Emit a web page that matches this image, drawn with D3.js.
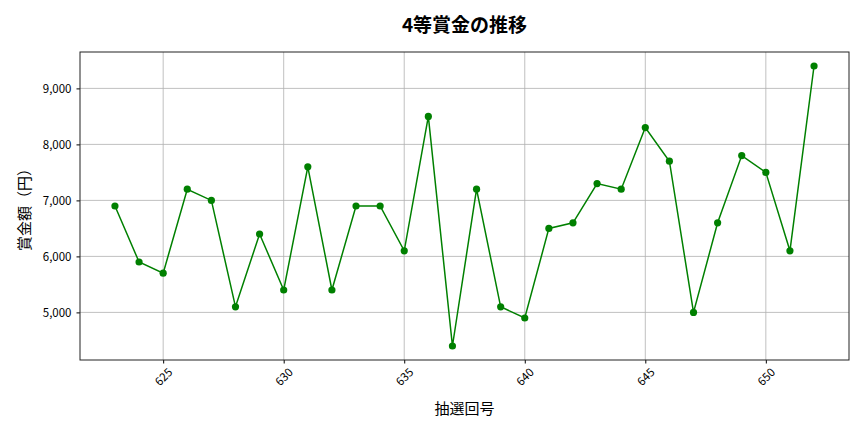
<!DOCTYPE html>
<html>
<head>
<meta charset="utf-8">
<title>4等賞金の推移</title>
<script src="https://cdn.jsdelivr.net/npm/d3@7"></script>
<style>
    body { margin: 0; background: #fff; }
    svg { font-family: "Noto Sans CJK JP", "Noto Sans", sans-serif; }
    .grid line { stroke: #b0b0b0; stroke-width: 0.8; }
    .axis path { display: none; }
    .axis line { stroke: #000; }
    .axis text { font-family: "Noto Sans CJK JP", "Noto Sans", sans-serif; font-size: 11.5px; fill: #000; }
</style>
</head>
<body>
<svg id="chart" width="864" height="432"></svg>
<script>
    // 抽選回号
    var draws = [623, 624, 625, 626, 627, 628, 629, 630, 631, 632,
                 633, 634, 635, 636, 637, 638, 639, 640, 641, 642,
                 643, 644, 645, 646, 647, 648, 649, 650, 651, 652];
    // 4等賞金 (円)
    var prizes = [6900, 5900, 5700, 7200, 7000, 5100, 6400, 5400, 7600, 5400,
                  6900, 6900, 6100, 8500, 4400, 7200, 5100, 4900, 6500, 6600,
                  7300, 7200, 8300, 7700, 5000, 6600, 7800, 7500, 6100, 9400];
    var xTicks = [625, 630, 635, 640, 645, 650];
    var yTicks = [5000, 6000, 7000, 8000, 9000];

    var data = draws.map(function(d, i) { return {draw: d, prize: prizes[i]}; });

    // plot area (window.top is reserved, so use a margin object)
    var m = {left: 80, top: 52, right: 849, bottom: 360};
    var svg = d3.select("#chart");

    // matplotlib style 5% margins
    var xr = d3.extent(draws), yr = d3.extent(prizes);
    var xPad = (xr[1] - xr[0]) * 0.05, yPad = (yr[1] - yr[0]) * 0.05;
    var x = d3.scaleLinear().domain([xr[0] - xPad, xr[1] + xPad]).range([m.left, m.right]);
    var y = d3.scaleLinear().domain([yr[0] - yPad, yr[1] + yPad]).range([m.bottom, m.top]);

    // grid
    var grid = svg.append("g").attr("class", "grid");
    grid.selectAll(".gx").data(xTicks).enter().append("line")
        .attr("x1", function(d) { return x(d); }).attr("x2", function(d) { return x(d); })
        .attr("y1", m.top).attr("y2", m.bottom);
    grid.selectAll(".gy").data(yTicks).enter().append("line")
        .attr("x1", m.left).attr("x2", m.right)
        .attr("y1", function(d) { return y(d); }).attr("y2", function(d) { return y(d); });

    // axes
    var xAxis = svg.append("g").attr("class", "axis")
        .attr("transform", "translate(0," + m.bottom + ")")
        .call(d3.axisBottom(x).tickValues(xTicks).tickSize(3.5).tickFormat(d3.format("d")));
    // rotate each label about its own centre, like matplotlib rotation=45
    xAxis.selectAll("text")
        .attr("text-anchor", "middle")
        .attr("y", 0)
        .attr("dy", "0.35em")
        .attr("transform", "translate(0,17) rotate(-45)");

    svg.append("g").attr("class", "axis")
        .attr("transform", "translate(" + m.left + ",0)")
        .call(d3.axisLeft(y).tickValues(yTicks).tickSize(3.5).tickPadding(5).tickFormat(d3.format(",")));

    // frame
    svg.append("rect")
        .attr("x", m.left).attr("y", m.top)
        .attr("width", m.right - m.left).attr("height", m.bottom - m.top)
        .attr("fill", "none").attr("stroke", "#222").attr("stroke-width", 1);

    // line and markers
    var line = d3.line()
        .x(function(d) { return x(d.draw); })
        .y(function(d) { return y(d.prize); });

    svg.append("path").datum(data)
        .attr("d", line)
        .attr("fill", "none")
        .attr("stroke", "green")
        .attr("stroke-width", 1.5);

    svg.selectAll(".dot").data(data).enter().append("circle")
        .attr("cx", function(d) { return x(d.draw); })
        .attr("cy", function(d) { return y(d.prize); })
        .attr("r", 3.6)
        .attr("fill", "green");

    // labels
    svg.append("text")
        .attr("x", (m.left + m.right) / 2).attr("y", 32)
        .attr("text-anchor", "middle")
        .style("font-size", "19px").style("font-weight", "bold")
        .text("4等賞金の推移");

    svg.append("text")
        .attr("x", (m.left + m.right) / 2).attr("y", 414)
        .attr("text-anchor", "middle")
        .style("font-size", "15px")
        .text("抽選回号");

    svg.append("text")
        .attr("transform", "translate(30," + ((m.top + m.bottom) / 2) + ") rotate(-90)")
        .attr("text-anchor", "middle")
        .style("font-size", "15px")
        .text("賞金額（円）");
</script>
</body>
</html>
